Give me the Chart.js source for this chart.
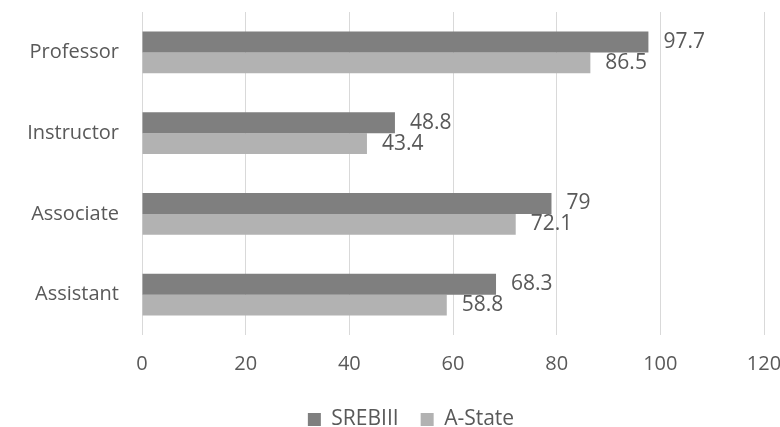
<!DOCTYPE html>
<html>
<head>
<meta charset="utf-8">
<script src="https://cdn.jsdelivr.net/npm/chart.js@4"></script>
<style>
  html, body { margin: 0; padding: 0; background: #fff; }
  #wrap { width: 780px; height: 427px; }
</style>
</head>
<body>
<div id="wrap"><canvas id="chart"></canvas></div>
<script>
// categories, top to bottom
const categories = ["Professor", "Instructor", "Associate", "Assistant"];
const srebValues = [97.7, 48.8, 79, 68.3];
const astateValues = [86.5, 43.4, 72.1, 58.8];
const xTicks = [0, 20, 40, 60, 80, 100, 120];

const textColor = "#595959";
const fontFamily = "'Open Sans', sans-serif";

// value labels to the right of each bar
const barLabels = {
    id: "barLabels",
    afterDatasetsDraw(chart) {
        const ctx = chart.ctx;
        ctx.save();
        ctx.font = "21px " + fontFamily;
        ctx.fillStyle = textColor;
        ctx.textAlign = "left";
        ctx.textBaseline = "middle";
        chart.data.datasets.forEach((ds, i) => {
            chart.getDatasetMeta(i).data.forEach((bar, j) => {
                ctx.fillText(String(ds.data[j]), bar.x + 15, bar.y);
            });
        });
        ctx.restore();
    }
};

// legend sits a bit right of the canvas centre in the original
const legendShift = {
    id: "legendShift",
    afterLayout(chart) {
        chart.legend.left += 29;
        chart.legend.right += 29;
    }
};

new Chart(document.getElementById("chart"), {
    type: "bar",
    data: {
        labels: categories,
        datasets: [
            { label: "SREBIII", data: srebValues, backgroundColor: "#7f7f7f" },
            { label: "A-State", data: astateValues, backgroundColor: "#b2b2b2" }
        ]
    },
    options: {
        indexAxis: "y",
        responsive: true,
        maintainAspectRatio: false,
        animation: false,
        categoryPercentage: 0.52,
        barPercentage: 1,
        layout: { padding: { top: 12, right: 16, left: 0, bottom: -13 } },
        plugins: {
            tooltip: { enabled: false },
            legend: {
                position: "bottom",
                labels: {
                    color: textColor,
                    font: { family: fontFamily, size: 21 },
                    boxWidth: 13,
                    boxHeight: 13,
                    padding: 22
                }
            }
        },
        scales: {
            x: {
                min: 0,
                max: 120,
                afterBuildTicks(scale) {
                    scale.ticks = xTicks.map(v => ({ value: v }));
                },
                afterFit(scale) {
                    scale.paddingLeft = 0;
                    scale.paddingRight = 0;
                    scale.height = 52;
                },
                grid: { color: "#d9d9d9", drawTicks: false },
                border: { display: false },
                ticks: {
                    color: textColor,
                    font: { family: fontFamily, size: 20 },
                    padding: 17,
                    maxRotation: 0
                }
            },
            y: {
                afterFit(scale) {
                    scale.width = 142;
                    scale.paddingTop = 0;
                    scale.paddingBottom = 0;
                },
                grid: { display: false, drawTicks: false },
                border: { display: false },
                ticks: {
                    color: textColor,
                    font: { family: fontFamily, size: 20 },
                    padding: 23
                }
            }
        }
    },
    plugins: [barLabels, legendShift]
});
</script>
</body>
</html>
